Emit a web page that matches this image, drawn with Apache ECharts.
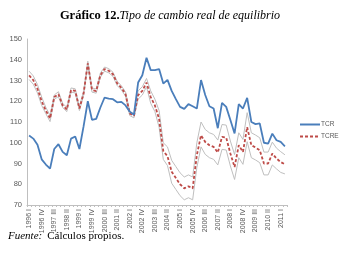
<!DOCTYPE html>
<html>
<head>
<meta charset="utf-8">
<script src="https://cdn.jsdelivr.net/npm/echarts@6/dist/echarts.min.js"></script>
<style>
  html, body { margin: 0; padding: 0; background: #fff; }
  #chart { width: 340px; height: 258px; }
</style>
</head>
<body>
<div id="chart"></div>
<script>
// trimestres 1996 I - 2011 II
var years = [1996, 1997, 1998, 1999, 2000, 2001, 2002, 2003, 2004, 2005, 2006, 2007, 2008, 2009, 2010, 2011]
var quarters = ['I', 'II', 'III', 'IV']
var categories = []
years.forEach(function (y) {
  quarters.forEach(function (q) {
    if (y === 2011 && (q === 'III' || q === 'IV')) return
    categories.push(y + ' ' + q)
  })
})

var tcr = [
  103.5, 102, 99, 92, 89.5, 87.5, 97, 99.3, 95.6, 94, 102, 103, 97, 108,
  120, 111, 111.5, 117, 121.8, 121.3, 121, 119.5, 119.7, 118, 115, 113.5,
  129, 132.5, 141, 135, 135, 135.5, 128.5, 130.3, 125, 121, 117.3, 116.3,
  118.6, 117.6, 116.5, 130.2, 123, 117.6, 116.5, 107, 119.2, 117.3, 111,
  104.5, 118.6, 116.5, 121.6, 110, 109, 109.3, 100, 99.6, 104.4, 101.2, 100.4, 98.3
]

var tcre = [
  132.5, 130.2, 126, 120, 115.5, 111.7, 122, 123.4, 118, 116, 125.4, 125, 116.5, 123.8,
  138.3, 125.4, 124.9, 132.6, 135.5, 134.7, 133, 128.6, 126.5, 123.4, 114.1, 113,
  123, 125, 129, 122, 118, 111.5, 96, 93.5, 86, 83, 80, 78,
  79, 78, 94, 103.6, 100.4, 98.8, 98, 95.3, 102.8, 102.5, 94.8,
  88.3, 98.8, 95.6, 107.5, 98.8, 97.7, 96.4, 90, 90, 94.8, 92.4, 90.7, 89.6
]

// bandas de confianza (líneas grises)
var upper = [
  134.5, 132.2, 128, 122, 117, 113.2, 123, 124.6, 119, 117, 126.4, 126, 117.5, 124.8,
  139.3, 126.4, 125.9, 133.6, 136.5, 135.7, 134, 129.6, 127.5, 124.4, 115.1, 114,
  125, 127, 131, 125, 121, 115.5, 100, 98, 91.5, 88.5, 85.5, 83.5,
  84.5, 83.5, 100, 110, 106.4, 104.8, 104, 101.3, 108.8, 108.5, 100.8,
  94.3, 104.8, 101.6, 114.5, 104.8, 103.7, 102.4, 95.5, 95.5, 100.3, 97.4, 95.7, 94.2
]
var lower = [
  130.5, 128.2, 124, 118, 114, 110.2, 121, 122.2, 117, 115, 124.4, 124, 115.5, 122.8,
  137.3, 124.4, 123.9, 131.6, 134.5, 133.7, 132, 127.6, 125.5, 122.4, 113.1, 112,
  121, 123, 127, 119, 115, 107.5, 92, 89, 80.5, 77.5, 74.5, 72.5,
  73.5, 72.5, 88, 98, 94.4, 92.8, 92, 89.3, 96.8, 96.5, 88.8,
  82.3, 92.8, 89.6, 100.5, 92.8, 91.7, 90.4, 84.5, 84.5, 89.3, 87.4, 85.7, 85
]

var myChart = echarts.init(document.getElementById('chart'))

var grayLine = { color: '#bfbfbf', width: 1 }

var option = {
  animation: false,
  backgroundColor: '#fff',
  title: [
    {
      text: '{b|Gráfico 12.}{i|Tipo de cambio real de equilibrio}',
      left: 'center',
      top: 4,
      textStyle: {
        rich: {
          b: { fontFamily: 'Liberation Serif', fontWeight: 'bold', fontSize: 12.5, color: '#000' },
          i: { fontFamily: 'Liberation Serif', fontStyle: 'italic', fontWeight: 'normal', fontSize: 12, color: '#000' }
        }
      }
    },
    {
      text: '{i|Fuente:} {n|Cálculos propios.}',
      left: 3,
      top: 222,
      textStyle: {
        fontWeight: 'normal',
        rich: {
          i: { fontFamily: 'Liberation Serif', fontStyle: 'italic', fontWeight: 'normal', fontSize: 11, color: '#000' },
          n: { fontFamily: 'Liberation Serif', fontWeight: 'normal', fontSize: 11, color: '#000' }
        }
      }
    }
  ],
  legend: {
    data: ['TCR', 'TCRE'],
    orient: 'vertical',
    left: 294,
    top: 116,
    itemWidth: 20,
    itemHeight: 8,
    itemGap: 5,
    itemStyle: { opacity: 0 },
    textStyle: { fontFamily: 'Liberation Sans', fontSize: 6.5, color: '#595959', padding: [0, 0, 0, -4] }
  },
  grid: { left: 27, right: 53, top: 39, bottom: 53 },
  xAxis: {
    type: 'category',
    data: categories,
    boundaryGap: true,
    axisLine: { lineStyle: { color: '#bfbfbf', width: 1 } },
    axisTick: { show: true, interval: 0, length: 2, lineStyle: { color: '#bfbfbf' } },
    axisLabel: {
      interval: 2,
      rotate: 90,
      fontFamily: 'Liberation Sans',
      fontSize: 7,
      color: '#595959',
      margin: 4
    },
    splitLine: { show: false }
  },
  yAxis: {
    type: 'value',
    min: 70,
    max: 150,
    interval: 10,
    axisLine: { show: true, lineStyle: { color: '#bfbfbf', width: 1 } },
    axisTick: { show: false },
    axisLabel: { fontFamily: 'Liberation Sans', fontSize: 7.5, color: '#595959', margin: 5 },
    splitLine: { show: false }
  },
  series: [
    { name: 'sup', type: 'line', data: upper, symbol: 'none', lineStyle: grayLine, silent: true },
    { name: 'inf', type: 'line', data: lower, symbol: 'none', lineStyle: grayLine, silent: true },
    {
      name: 'TCRE',
      type: 'line',
      data: tcre,
      symbol: 'none',
      itemStyle: { color: '#be4b48' },
      lineStyle: { color: '#be4b48', width: 1.8, type: [3, 2] }
    },
    {
      name: 'TCR',
      type: 'line',
      data: tcr,
      symbol: 'none',
      itemStyle: { color: '#4a7ebb' },
      lineStyle: { color: '#4a7ebb', width: 1.8 }
    }
  ]
}

myChart.setOption(option)
</script>
</body>
</html>
